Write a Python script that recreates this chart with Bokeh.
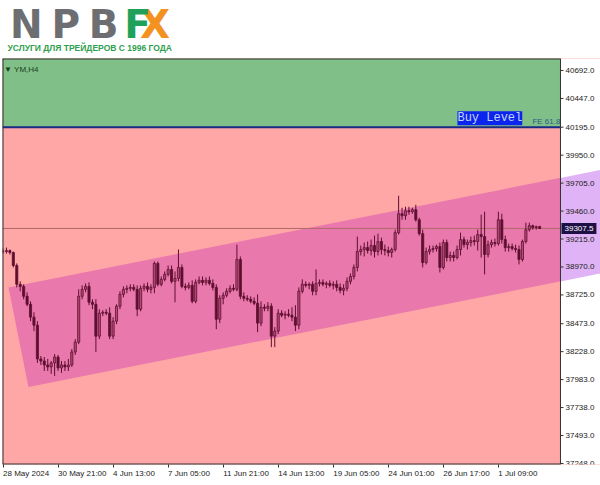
from bokeh.plotting import figure
from bokeh.layouts import column
from bokeh.models import (Range1d, FixedTicker, Label, BoxAnnotation, ColumnDataSource)
from bokeh.core.properties import value
from bokeh.embed import file_html
from bokeh.resources import INLINE

# ---- data (YM, H4 candles) ----
opens = [39105, 39105, 39114, 39097, 38983, 38818, 38800, 38713, 38643, 38530,
         38460, 38164, 38146, 38111, 38094, 38129, 38181, 38085, 38111, 38094,
         38111, 38225, 38312, 38713, 38774, 38800, 38661, 38643, 38364, 38565,
         38573, 38565, 38364, 38495, 38626, 38730, 38774, 38783, 38791, 38774,
         38600, 38783, 38800, 38774, 38791, 39001, 38818, 38861, 38905, 38948,
         38844, 38870, 38966, 38800, 38791, 38809, 38669, 38835, 38853, 38835,
         38853, 38826, 38791, 38512, 38696, 38722, 38757, 38783, 38774, 39036,
         38713, 38696, 38687, 38669, 38652, 38478, 38617, 38608, 38626, 38364,
         38408, 38565, 38547, 38556, 38547, 38530, 38460, 38757, 38818, 38809,
         38818, 38757, 38826, 38835, 38818, 38826, 38809, 38818, 38791, 38765,
         38783, 38844, 38887, 38966, 39105, 39123, 39140, 39114, 39158, 39105,
         39193, 39123, 39114, 39097, 39123, 39271, 39437, 39419, 39463, 39454,
         39472, 39384, 39262, 39009, 39105, 39123, 39132, 39149, 38966, 39184,
         39053, 39071, 39053, 39123, 39210, 39166, 39184, 39201, 39193, 39254,
         39236, 39079, 39166, 39184, 39175, 39384, 39210, 39140, 39149, 39132,
         39123, 39036, 39193, 39297, 39332, 39315, 39323]
highs = [39132, 39140, 39123, 39105, 39001, 38844, 38818, 38748, 38669, 38573,
         38495, 38190, 38181, 38164, 38146, 38207, 38199, 38146, 38146, 38164,
         38251, 38338, 38774, 38809, 38826, 38835, 38687, 38687, 38600, 38591,
         38600, 38617, 38530, 38643, 38757, 38800, 38809, 38818, 38818, 38809,
         38809, 38826, 38835, 38818, 39018, 39018, 38887, 38931, 38983, 38983,
         38931, 39123, 38992, 38826, 38835, 38853, 38861, 38887, 38887, 38879,
         38887, 38861, 38818, 38722, 38748, 38783, 38809, 38818, 39166, 39062,
         38748, 38722, 38713, 38704, 38730, 38669, 38643, 38661, 38652, 38443,
         38600, 38591, 38582, 38600, 38617, 38635, 38791, 38861, 38844, 38835,
         38844, 38948, 38861, 38861, 38844, 38853, 38844, 38853, 38826, 38818,
         38879, 38914, 38992, 39236, 39158, 39184, 39193, 39210, 39245, 39262,
         39227, 39166, 39149, 39140, 39297, 39594, 39489, 39498, 39498, 39489,
         39515, 39402, 39297, 39140, 39158, 39158, 39166, 39184, 39210, 39210,
         39105, 39105, 39158, 39271, 39236, 39210, 39236, 39245, 39297, 39428,
         39454, 39201, 39210, 39219, 39454, 39437, 39245, 39175, 39175, 39166,
         39158, 39210, 39358, 39358, 39341, 39332, 39332]
lows = [39088, 39088, 39079, 38966, 38791, 38757, 38687, 38626, 38495, 38408,
        38129, 38111, 38059, 38059, 38033, 38015, 38059, 38042, 38059, 38059,
        38094, 38199, 38294, 38687, 38748, 38635, 38600, 38225, 38338, 38539,
        38547, 38338, 38338, 38469, 38600, 38704, 38739, 38757, 38757, 38539,
        38582, 38757, 38748, 38739, 38739, 38800, 38800, 38844, 38887, 38826,
        38661, 38844, 38783, 38765, 38774, 38652, 38652, 38818, 38809, 38809,
        38809, 38765, 38425, 38478, 38643, 38704, 38739, 38757, 38757, 38687,
        38669, 38669, 38652, 38635, 38399, 38451, 38582, 38582, 38268, 38268,
        38382, 38530, 38512, 38530, 38495, 38408, 38425, 38739, 38791, 38774,
        38722, 38722, 38800, 38800, 38783, 38791, 38774, 38757, 38739, 38722,
        38757, 38818, 38861, 38931, 39071, 39062, 39088, 39071, 39053, 39071,
        39079, 39071, 39062, 39053, 39105, 39254, 39384, 39384, 39428, 39437,
        39367, 39245, 38966, 38992, 39079, 39097, 39105, 38922, 38948, 39018,
        39018, 39018, 39036, 39071, 39140, 39123, 39149, 39158, 39114, 39053,
        38905, 39053, 39140, 39149, 39158, 39175, 39105, 39105, 39114, 39097,
        38992, 39018, 39175, 39280, 39297, 39297, 39306]
closes = [39105, 39114, 39097, 38983, 38818, 38800, 38713, 38643, 38530, 38460,
          38164, 38146, 38111, 38094, 38129, 38181, 38085, 38111, 38094, 38111,
          38225, 38312, 38713, 38774, 38800, 38661, 38643, 38364, 38565, 38573,
          38565, 38364, 38495, 38626, 38730, 38774, 38783, 38791, 38774, 38600,
          38783, 38800, 38774, 38791, 39001, 38818, 38861, 38905, 38948, 38844,
          38870, 38966, 38800, 38791, 38809, 38669, 38835, 38853, 38835, 38853,
          38826, 38791, 38512, 38696, 38722, 38757, 38783, 38774, 39036, 38713,
          38696, 38687, 38669, 38652, 38478, 38617, 38608, 38626, 38364, 38408,
          38565, 38547, 38556, 38547, 38530, 38460, 38757, 38818, 38809, 38818,
          38757, 38826, 38835, 38818, 38826, 38809, 38818, 38791, 38765, 38783,
          38844, 38887, 38966, 39105, 39123, 39140, 39114, 39158, 39105, 39193,
          39123, 39114, 39097, 39123, 39271, 39437, 39419, 39463, 39454, 39472,
          39384, 39262, 39009, 39105, 39123, 39132, 39149, 38966, 39184, 39053,
          39071, 39053, 39123, 39210, 39166, 39184, 39201, 39193, 39254, 39236,
          39079, 39166, 39184, 39175, 39384, 39210, 39140, 39149, 39132, 39123,
          39036, 39193, 39297, 39332, 39315, 39323, 39307.5]

time_ticks = [0, 16, 32, 48, 64, 80, 96, 112, 128, 144]
time_labels = ["28 May 2024", "30 May 21:00", "4 Jun 13:00", "7 Jun 05:00",
               "11 Jun 21:00", "14 Jun 13:00", "19 Jun 05:00", "24 Jun 01:00",
               "26 Jun 17:00", "1 Jul 09:00"]
price_ticks = [37248.0, 37493.0, 37738.0, 37983.0, 38228.0, 38473.0, 38725.0,
               38970.0, 39215.0, 39460.0, 39705.0, 39950.0, 40195.0, 40447.0,
               40692.0]
buy_level = 40195.0
last_price = 39307.5
chan_upper_x = [1.6, 173.7]
chan_upper_y = [38791, 39820]
chan_lower_x = [7.4, 173.7]
chan_lower_y = [37919, 38913]
logo_letters = ["N", "P", "B", "X", "F"]
tagline = "УСЛУГИ ДЛЯ ТРЕЙДЕРОВ С 1996 ГОДА"

# ---- colours ----
BG = "#FFA6A6"
GREEN = "#80C088"
CHAN = "#E978AC"
LAVENDER = "#DFB3F5"
DARK = "#5E0F30"
BULL = "#B54A78"
BORDER = "#333333"

# ---- layout constants (bar units / prices) ----
X0, X_AX, X1 = -0.15, 162.06, 173.69   # left edge, price-scale edge, right edge
Y0, Y1 = 37239, 40797
PX = 1 / 3.44                            # one pixel in bar units

# ================= logo strip =================
logo = figure(width=600, height=57, x_range=Range1d(0, 600), y_range=Range1d(57, 0),
              output_backend="svg", toolbar_location=None,
              x_axis_location=None, y_axis_location=None, min_border=0)
logo.grid.visible = False
logo.outline_line_color = None
logo.background_fill_color = "white"
logo.border_fill_color = "white"
lsrc = ColumnDataSource(dict(x=[24, 63.5, 101.5, 153, 135.5], y=[23.5] * 5,
                             t=logo_letters,
                             c=["#6D6E71", "#6D6E71", "#6D6E71", "#F39121", "#1FA15A"]))
logo.text(x="x", y="y", text="t", text_color="c", source=lsrc,
          text_font=value("DejaVu Sans"), text_font_style="bold",
          text_font_size=value("39px"), text_baseline="middle", text_align="center")
logo.text(x=[5], y=[47.5], text=[tagline],
          text_font=value("Liberation Sans"), text_font_style="bold",
          text_font_size=value("8.5px"), text_color="#2F9E4F",
          text_baseline="middle", text_align="left")

# ================= chart =================
p = figure(width=600, height=428, output_backend="svg", toolbar_location=None,
           x_range=Range1d(X0, X1), y_range=Range1d(Y0, Y1),
           y_axis_location=None,
           min_border_left=2, min_border_right=0, min_border_top=1,
           min_border_bottom=19)
p.background_fill_color = BG
p.border_fill_color = "white"
p.outline_line_color = None
p.grid.visible = False

p.add_layout(BoxAnnotation(bottom=buy_level, right=X_AX, fill_color=GREEN,
                           fill_alpha=1, line_color=None, level="underlay"))

# trend channel
p.patch([chan_upper_x[0], chan_upper_x[1], chan_lower_x[1], chan_lower_x[0]],
        [chan_upper_y[0], chan_upper_y[1], chan_lower_y[1], chan_lower_y[0]],
        fill_color=CHAN, line_color=None)


def at(xs, ys, x):
    return ys[0] + (ys[1] - ys[0]) * (x - xs[0]) / (xs[1] - xs[0])


# price-scale strip (white) with the channel showing through in lavender
p.quad(left=[X_AX], right=[X1], bottom=[Y0], top=[Y1], fill_color="white",
       line_color=None)
p.patch([X_AX, chan_upper_x[1], chan_lower_x[1], X_AX],
        [at(chan_upper_x, chan_upper_y, X_AX), chan_upper_y[1],
         chan_lower_y[1], at(chan_lower_x, chan_lower_y, X_AX)],
        fill_color=LAVENDER, line_color=None)

# horizontal levels
p.line([X0, X_AX], [last_price, last_price], line_color="#B06A6A", line_width=1)
p.line([X0, X_AX], [buy_level, buy_level], line_color="#1B2A86", line_width=2)

# candles
bars = list(range(len(closes)))
src = ColumnDataSource(dict(x=bars, h=highs, l=lows))
p.segment("x", "h", "x", "l", source=src, line_color=DARK, line_width=1)
up = [i for i in bars if closes[i] >= opens[i]]
dn = [i for i in bars if closes[i] < opens[i]]
p.vbar(x=up, top=[closes[i] for i in up], bottom=[opens[i] for i in up],
       width=0.62, fill_color=BULL, line_color=DARK, line_width=0.8)
p.vbar(x=dn, top=[opens[i] for i in dn], bottom=[closes[i] for i in dn],
       width=0.62, fill_color=DARK, line_color=DARK, line_width=0.8)

# chart border (price-scale edge on the right)
p.multi_line([[X0, X_AX], [X0, X_AX], [X0, X0], [X_AX, X_AX]],
             [[Y1, Y1], [Y0, Y0], [Y0, Y1], [Y0, Y1]],
             line_color=BORDER, line_width=[2, 2, 2, 1])

# price scale: tick marks and labels
p.segment(x0=[X_AX] * len(price_ticks), y0=price_ticks,
          x1=[X_AX + 3 * PX] * len(price_ticks), y1=price_ticks,
          line_color=BORDER, line_width=1)
p.text(x=[X_AX + 5 * PX] * len(price_ticks), y=price_ticks,
       text=["%.1f" % t for t in price_ticks],
       text_font=value("Liberation Sans"), text_font_size=value("8px"),
       text_color="#222222", text_baseline="middle", text_align="left")

# time axis
xa = p.xaxis[0]
xa.ticker = FixedTicker(ticks=time_ticks)
xa.major_label_overrides = {t: s for t, s in zip(time_ticks, time_labels)}
xa.major_label_orientation = -0.0001
xa.major_label_text_font = "Liberation Sans"
xa.major_label_text_font_size = "8px"
xa.major_label_text_color = "#222222"
xa.major_tick_out = 3
xa.major_tick_in = 0
xa.minor_tick_out = 0
xa.minor_tick_in = 0
xa.major_tick_line_color = BORDER
xa.major_label_standoff = 6
xa.axis_line_color = None

# texts on the chart
p.add_layout(Label(x=132.1, y=buy_level, y_offset=2, text="Buy Level",
                   text_font="Liberation Mono", text_font_size="12px",
                   text_color="#C4D4F2", text_baseline="bottom",
                   background_fill_color="#0B24EE", padding=0))
p.add_layout(Label(x=153.9, y=buy_level, y_offset=1, text="FE 61.8",
                   text_font="Liberation Sans", text_font_size="8px",
                   text_color="#2A5C8A", text_baseline="bottom"))
p.add_layout(Label(x=0.3, y=Y1, y_offset=-11, text="\u25bc YM,H4",
                   text_font="Liberation Sans", text_font_size="8px",
                   text_color="#1E3A1E", text_baseline="alphabetic"))
p.add_layout(Label(x=X_AX + 1 * PX, y=last_price, text="39307.5",
                   text_font="Liberation Sans", text_font_size="8px",
                   text_color="white", text_baseline="middle",
                   background_fill_color="#1E0F45", padding=3))

layout = column(logo, p, spacing=0)
open("out.html", "w").write(file_html(layout, INLINE))
